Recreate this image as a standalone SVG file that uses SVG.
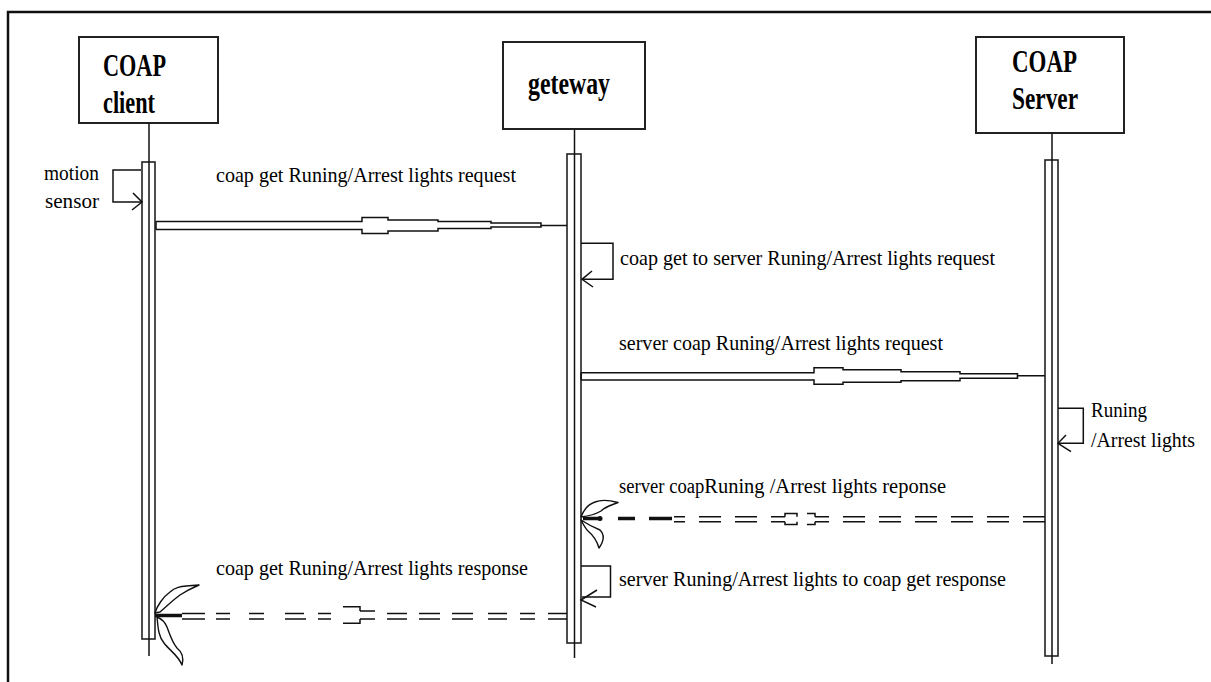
<svg xmlns="http://www.w3.org/2000/svg" width="1211" height="682" viewBox="0 0 1211 682">
<style>
.box{fill:#fff;stroke:#222;stroke-width:2}
.bar{fill:#fff;stroke:#222;stroke-width:1.6}
.life{stroke:#111;stroke-width:1.5;fill:none}
.ln{fill:none;stroke:#111;stroke-width:1.5}
.thick{fill:none;stroke:#111;stroke-width:3.5}
.lobe{fill:#fff;stroke:#111;stroke-width:1.4;stroke-linejoin:round}
.hdr{font-family:"Liberation Serif","Times New Roman",serif;font-weight:bold;font-size:31px;fill:#000}
.lbl{font-family:"Liberation Serif","Times New Roman",serif;font-size:21px;fill:#000}
</style>
<rect width="1211" height="682" fill="#fff"/>
<path d="M8,682 V12 H1211" fill="none" stroke="#111" stroke-width="2.5"/>

<g id="client">
  <rect class="box" x="79" y="37" width="139" height="86"/>
  <text class="hdr" x="103" y="76" textLength="63" lengthAdjust="spacingAndGlyphs">COAP</text>
  <text class="hdr" x="103" y="113" textLength="52" lengthAdjust="spacingAndGlyphs">client</text>
  <rect class="bar" x="142" y="162" width="13" height="477"/>
  <line class="life" x1="149" y1="123" x2="149" y2="656"/>
</g>

<g id="gateway">
  <rect class="box" x="503" y="42" width="142" height="87"/>
  <text class="hdr" x="528" y="94" textLength="82" lengthAdjust="spacingAndGlyphs">geteway</text>
  <rect class="bar" x="567" y="154" width="14" height="489"/>
  <line class="life" x1="574.5" y1="129" x2="574.5" y2="658"/>
</g>

<g id="server">
  <rect class="box" x="976" y="37" width="148" height="96"/>
  <text class="hdr" x="1012" y="72" textLength="65" lengthAdjust="spacingAndGlyphs">COAP</text>
  <text class="hdr" x="1012" y="109" textLength="66" lengthAdjust="spacingAndGlyphs">Server</text>
  <rect class="bar" x="1045" y="160" width="13" height="496"/>
  <line class="life" x1="1052" y1="133" x2="1052" y2="664"/>
</g>

<g id="connectors">
  <g id="msg-motion">
    <path class="ln" d="M141,170 H113 V202 H142"/>
    <path class="ln" d="M133,193 L142,202 L132,210"/>
    <text class="lbl" x="44" y="180" textLength="55" lengthAdjust="spacingAndGlyphs">motion</text>
    <text class="lbl" x="45" y="208" textLength="54" lengthAdjust="spacingAndGlyphs">sensor</text>
  </g>

  <g id="msg1">
    <path class="ln" d="M156,221.5 H362 V217.5 H388 V220 H438 V221.5 H491 V223 H541 V225.5 H567"/>
    <path class="ln" d="M156,229.5 H362 V233.5 H388 V231 H438 V228.5 H491 V227 H541 V225.5"/>
    <path class="ln" d="M156,221.5 V229.5" stroke-width="2"/>
    <text class="lbl" x="216" y="182" textLength="300" lengthAdjust="spacingAndGlyphs">coap get Runing/Arrest lights request</text>
  </g>

  <g id="msg2">
    <path class="ln" d="M581,243.3 H613 V279.3 H582"/>
    <path class="ln" d="M592,271 L582,279.3 L593,287"/>
    <text class="lbl" x="620" y="265" textLength="375" lengthAdjust="spacingAndGlyphs">coap get to server Runing/Arrest lights request</text>
  </g>

  <g id="msg3">
    <path class="ln" d="M581,372.7 H814 V367.7 H843 V369.7 H901 V371.7 H960 V373.7 H1017.5 V375.7 H1045"/>
    <path class="ln" d="M581,380 H814 V384.3 H843 V382.3 H901 V380.7 H960 V378.3 H1017.5 V375.7"/>
    <path class="ln" d="M581,372.7 V380" stroke-width="2"/>
    <text class="lbl" x="619" y="350" textLength="324" lengthAdjust="spacingAndGlyphs">server coap Runing/Arrest lights request</text>
  </g>

  <g id="msg-server">
    <path class="ln" d="M1058,408.3 H1083.3 V443.3 H1058"/>
    <path class="ln" d="M1066,435 L1058,443.3 L1071,451.7"/>
    <text class="lbl" x="1091" y="417" textLength="56" lengthAdjust="spacingAndGlyphs">Runing</text>
    <text class="lbl" x="1091" y="447" textLength="104" lengthAdjust="spacingAndGlyphs">/Arrest lights</text>
  </g>

  <g id="msg4">
    <path class="ln" d="M1023,516.7 H1045 M987,516.7 H1009 M951,516.7 H973 M915,516.7 H937 M879,516.7 H901 M843,516.7 H865 M815,516.7 H829 M771,516.7 H785 M735,516.7 H757 M699,516.7 H721 M674,516.7 H685"/>
    <path class="ln" d="M1023,521.7 H1045 M987,521.7 H1009 M951,521.7 H973 M915,521.7 H937 M879,521.7 H901 M843,521.7 H865 M815,521.7 H829 M771,521.7 H785 M735,521.7 H757 M699,521.7 H721 M674,521.7 H685"/>
    <path class="ln" d="M785,516.7 V513.5 H797 V516.7 M785,521.7 V524.5 H797 V521.7"/>
    <path class="ln" d="M807,513.5 H815 V516.7 M807,524.5 H815 V521.7"/>
    <path class="thick" d="M583,518.5 H601 M618,518.5 H635 M649,518.5 H672"/>
    <path class="lobe" d="M581,517 C584,509 589,504 595,502 C602,499 609,500 618,502.5 C612,505 606,506 601,511 C596,514 589,516 581,517 Z"/>
    <path class="lobe" d="M581,520 C587,524 593,527 600,530 C605,535 604,541 599,548 C597,541 594,536 588,531 C585,528 583,524 581,520 Z"/>
    <circle cx="600" cy="518.5" r="2.5" fill="#111"/>
    <text class="lbl" x="619" y="493" textLength="327" lengthAdjust="spacingAndGlyphs"><tspan font-size="20">server coap</tspan><tspan font-size="22">Runing /Arrest lights reponse</tspan></text>
  </g>

  <g id="msg5">
    <path class="ln" d="M581,566 H610.5 V597 H582"/>
    <path class="ln" d="M597,590 L581,600 L596,607"/>
    <text class="lbl" x="619" y="586" textLength="387" lengthAdjust="spacingAndGlyphs">server Runing/Arrest lights to coap get response</text>
  </g>

  <g id="msg6">
    <path class="ln" d="M182,613.5 H205 M216,613.5 H230 M249,613.5 H264 M285,613.5 H304 M318,613.5 H331 M360,611 H375 M387,613.5 H407 M419,613.5 H440 M452,613.5 H473 M488,613.5 H507 M520,613.5 H535 M548,613.5 H567"/>
    <path class="ln" d="M182,619 H205 M216,619 H230 M249,619 H264 M285,619 H306 M318,619 H331 M360,619 H375 M387,619 H407 M419,619 H440 M452,619 H473 M488,619 H507 M520,619 H535 M548,619 H567"/>
    <path class="ln" d="M343,606.7 H360 V611 M343,623.3 H360 V619"/>
    <path class="thick" d="M155,615.5 H182" stroke-width="4"/>
    <path class="lobe" d="M155,613 C157,606 163,597 170,592 C174,588 178,586 199,585 C192,588 186,591 180,595 C173,600 167,606 160,612 Z"/>
    <path class="lobe" d="M157,617 C158,626 158,636 164,643 C169,650 178,655 182,665 C184,658 182,652 177,648 C172,642 170,635 167,627 C165,622 162,619 157,617 Z"/>
    <text class="lbl" x="216" y="575" textLength="312" lengthAdjust="spacingAndGlyphs">coap get Runing/Arrest lights response</text>
  </g>
</g>
</svg>
